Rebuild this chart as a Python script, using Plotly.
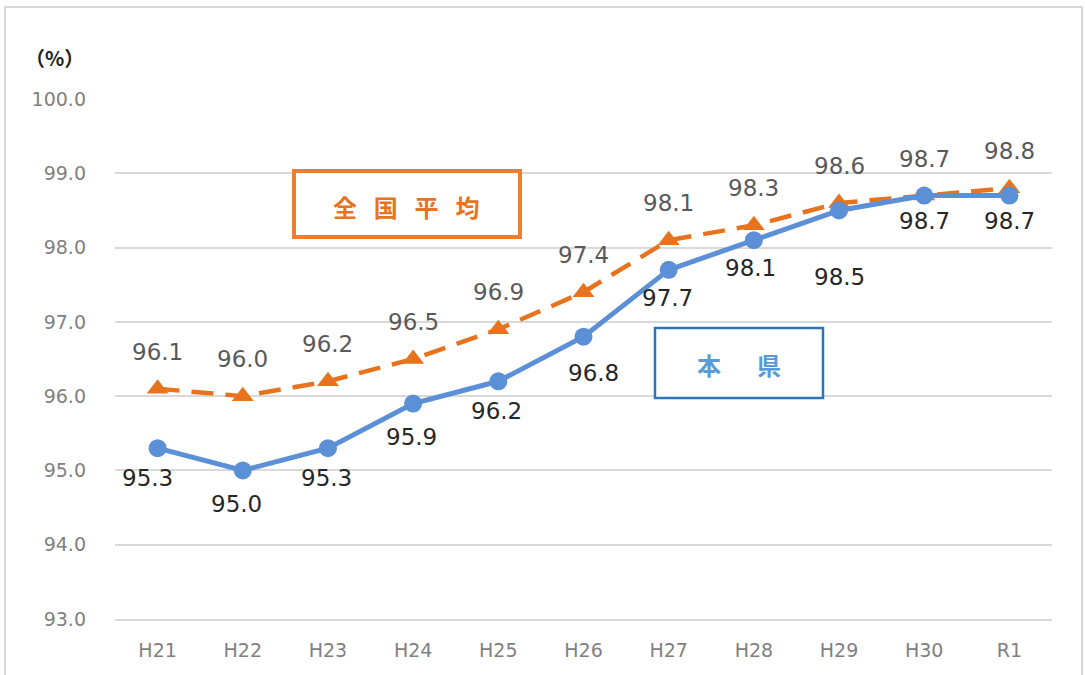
import plotly.graph_objects as go

# 年度
years = ["H21", "H22", "H23", "H24", "H25", "H26", "H27", "H28", "H29", "H30", "R1"]
# 本県 (%)
pref_values = [95.3, 95.0, 95.3, 95.9, 96.2, 96.8, 97.7, 98.1, 98.5, 98.7, 98.7]
# 全国平均 (%)
national_values = [96.1, 96.0, 96.2, 96.5, 96.9, 97.4, 98.1, 98.3, 98.6, 98.7, 98.8]
y_ticks = [93.0, 94.0, 95.0, 96.0, 97.0, 98.0, 99.0, 100.0]

BLUE = "#5B8FD6"
ORANGE = "#E8731F"
FONT = "Noto Sans CJK JP"
LABEL_FONT = "DejaVu Sans"

# label placement (pixel offsets from each point)
pref_label_dx = [-10, -6, -1, -2, -2, 10, -1, -3, 0, 0, 0]
pref_label_dy = [-30, -34, -30, -33, -30, -36, -28, -28, -67, -25, -25]
nat_label_dy = 37

L, R, T, B = 115, 33, 99, 56
W, H = 1085, 675
pw, ph = W - L - R, H - T - B


def px(xp):
    return (xp - L) / pw


def py(yp):
    return (H - B - yp) / ph


fig = go.Figure()

fig.add_trace(go.Scatter(
    x=years, y=national_values, mode="lines+markers", name="全国平均",
    line=dict(color=ORANGE, width=4.5, dash="22px,12px"),
    marker=dict(symbol="triangle-up", size=19, color=ORANGE),
))
fig.add_trace(go.Scatter(
    x=years, y=pref_values, mode="lines+markers", name="本県",
    line=dict(color=BLUE, width=5),
    marker=dict(symbol="circle", size=18, color=BLUE),
))

annotations = []
for yr, v in zip(years, national_values):
    annotations.append(dict(
        x=yr, y=v, xref="x", yref="y", text=f"{v:.1f}", showarrow=False,
        xanchor="center", yanchor="middle",
        yshift=nat_label_dy, font=dict(family=LABEL_FONT, size=23, color="#595959"),
    ))
for i, (yr, v) in enumerate(zip(years, pref_values)):
    annotations.append(dict(
        x=yr, y=v, xref="x", yref="y", text=f"{v:.1f}", showarrow=False,
        xanchor="center", yanchor="middle",
        xshift=pref_label_dx[i], yshift=pref_label_dy[i],
        font=dict(family=LABEL_FONT, size=23, color="#262626"),
    ))

# unit label
annotations.append(dict(
    x=px(54), y=py(57), xref="paper", yref="paper", text="<b>（%）</b>", showarrow=False,
    xanchor="center", yanchor="middle",
    font=dict(family=FONT, size=20, color="#222222"),
))
# series captions
annotations.append(dict(
    x=px(406), y=py(206), xref="paper", yref="paper",
    text="<b>全\u2002\u2009国\u2002\u2009平\u2002\u2009均</b>", showarrow=False,
    xanchor="center", yanchor="middle",
    font=dict(family=FONT, size=24, color=ORANGE),
))
annotations.append(dict(
    x=px(739), y=py(364), xref="paper", yref="paper", text="<b>本\u3000\u2002県</b>", showarrow=False,
    xanchor="center", yanchor="middle",
    font=dict(family=FONT, size=24, color="#5B9BD5"),
))

shapes = [
    # outer frame
    dict(type="rect", xref="paper", yref="paper", x0=px(5), x1=px(1082), y0=py(690), y1=py(7),
         line=dict(color="#D9D9D9", width=2), layer="below"),
    # caption boxes
    dict(type="rect", xref="paper", yref="paper", x0=px(294), x1=px(520), y0=py(237), y1=py(171),
         line=dict(color="#ED7D31", width=4), fillcolor="white"),
    dict(type="rect", xref="paper", yref="paper", x0=px(655), x1=px(823), y0=py(398), y1=py(328),
         line=dict(color="#2E75B6", width=2.5), fillcolor="white"),
]

fig.update_layout(
    width=W, height=H,
    margin=dict(l=L, r=R, t=T, b=B),
    paper_bgcolor="white", plot_bgcolor="white",
    showlegend=False,
    font=dict(family=FONT),
    annotations=annotations,
    shapes=shapes,
    xaxis=dict(
        type="category", range=[-0.5, 10.5], showgrid=False,
        showline=True, linecolor="#D9D9D9", linewidth=2,
        ticks="", tickfont=dict(family=LABEL_FONT, size=19, color="#7F7F7F"),
        ticklabelstandoff=13,
    ),
    yaxis=dict(
        range=[93, 100], tickvals=y_ticks, ticktext=[f"{t:.1f}" for t in y_ticks],
        showgrid=True, gridcolor="#D9D9D9", gridwidth=1.5, zeroline=False,
        showline=False, ticks="", tickfont=dict(family=LABEL_FONT, size=19, color="#7F7F7F"),
        ticklabelstandoff=28,
    ),
)

fig.write_html("out.html")
